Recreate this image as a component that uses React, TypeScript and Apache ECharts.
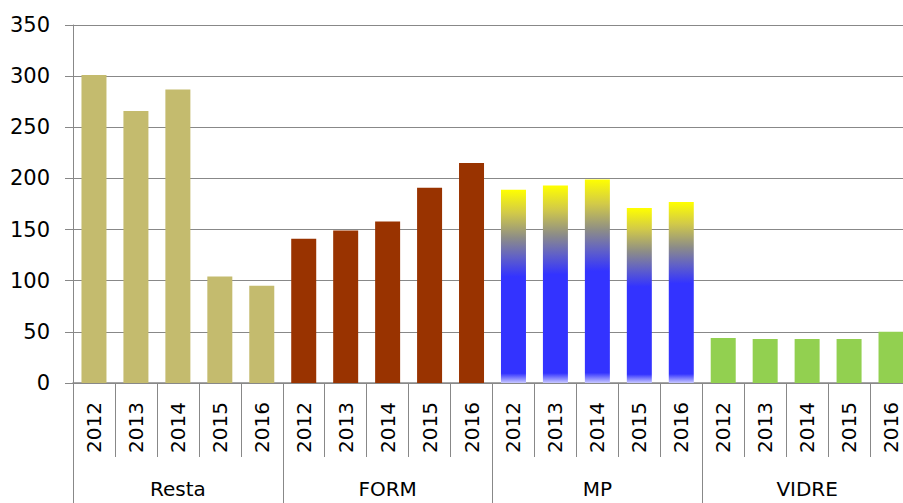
import React, { useEffect, useRef } from "react";
import * as echarts from "echarts";

const years = ["2012", "2013", "2014", "2015", "2016"];
const groups = ["Resta", "FORM", "MP", "VIDRE"];
const restaValues = [301, 266, 287, 104, 95];
const formValues = [141, 149, 158, 191, 215];
const mpValues = [189, 193, 199, 171, 177];
const vidreValues = [44, 43, 43, 43, 50];
const yTicks = { min: 0, max: 350, interval: 50 };

const restaColor = "#C4BB6E";
const formColor = "#993300";
const vidreColor = "#92D050";
const gridColor = "#888888";

export default function App() {
  const ref = useRef<HTMLDivElement>(null);
  useEffect(() => {
    if (!ref.current) return;
    const chart = echarts.init(ref.current, undefined, { renderer: "svg" });
    const mpGradient = () =>
      new echarts.graphic.LinearGradient(0, 0, 0, 1, [
        { offset: 0, color: "#FFFF00" },
        { offset: 0.12, color: "#D2CA48" },
        { offset: 0.25, color: "#8C8C88" },
        { offset: 0.35, color: "#6060C8" },
        { offset: 0.45, color: "#3333FF" },
        { offset: 0.95, color: "#3333FF" },
        { offset: 1, color: "#C8C8FF" },
      ]);
    const categories: string[] = [];
    const data: any[] = [];
    const sets = [restaValues, formValues, mpValues, vidreValues];
    sets.forEach((vals, gi) => {
      vals.forEach((v, i) => {
        categories.push(years[i]);
        let color: any = restaColor;
        if (gi === 1) color = formColor;
        if (gi === 2) color = mpGradient();
        if (gi === 3) color = vidreColor;
        data.push({ value: v, itemStyle: { color } });
      });
    });
    const font = "DejaVu Sans";
    chart.setOption({
      animation: false,
      grid: {
        left: 73,
        width: 839,
        top: 25,
        bottom: 120,
        containLabel: false,
        outerBoundsMode: "none",
      },
      xAxis: [
        {
          type: "category",
          data: categories,
          position: "bottom",
          axisLine: { show: true, lineStyle: { color: gridColor, width: 1.5 } },
          axisTick: { show: true, interval: 0, length: 74, lineStyle: { color: gridColor } },
          axisLabel: {
            interval: 0,
            rotate: 90,
            margin: 19,
            fontSize: 20,
            fontFamily: font,
            color: "#000",
          },
        },
        {
          type: "category",
          data: groups,
          position: "bottom",
          offset: 0,
          axisLine: { show: false },
          axisTick: { show: true, interval: 0, length: 130, lineStyle: { color: gridColor } },
          axisLabel: {
            interval: 0,
            margin: 96,
            fontSize: 20,
            fontFamily: font,
            color: "#000",
          },
        },
      ],
      yAxis: {
        type: "value",
        min: yTicks.min,
        max: yTicks.max,
        interval: yTicks.interval,
        axisLine: { show: true, lineStyle: { color: gridColor } },
        axisTick: { show: true, length: 8, lineStyle: { color: gridColor } },
        splitLine: { show: true, lineStyle: { color: gridColor, width: 1 } },
        axisLabel: { margin: 23, fontSize: 21, fontFamily: font, color: "#000" },
      },
      series: [
        {
          type: "bar",
          xAxisIndex: 0,
          barWidth: 25,
          data,
        },
      ],
    });
    return () => chart.dispose();
  }, []);
  return (
    <div
      ref={ref}
      style={{ position: "fixed", left: 0, top: 0, width: 903, height: 503, background: "#fff" }}
    />
  );
}
